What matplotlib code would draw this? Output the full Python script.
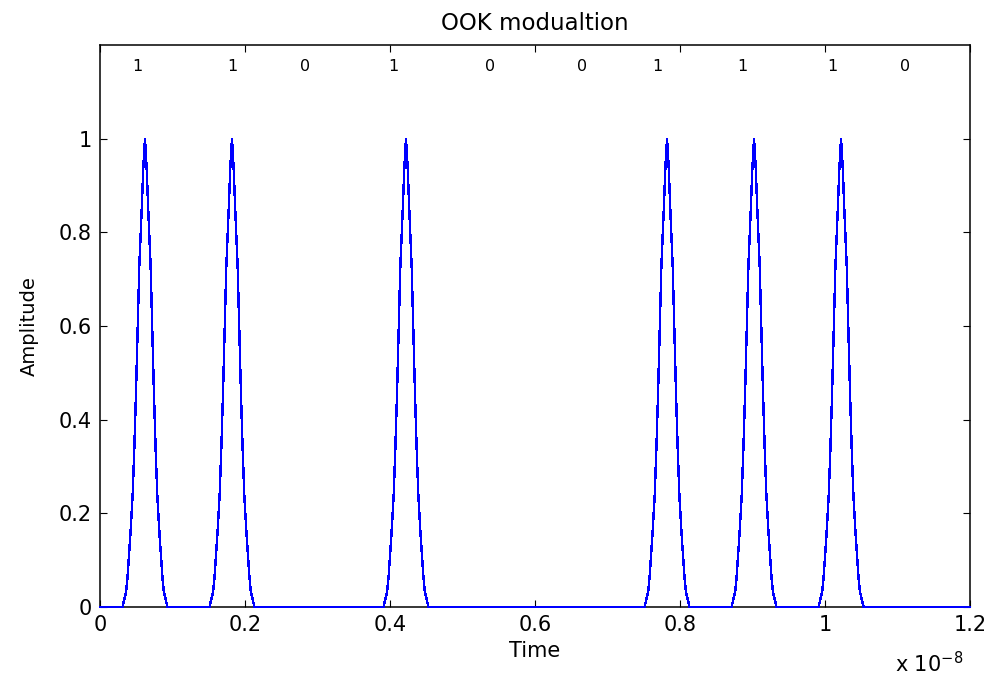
import numpy as np
import matplotlib
matplotlib.use("Agg")
import matplotlib.pyplot as plt
from matplotlib.ticker import MultipleLocator, FuncFormatter

# bit stream and timing (seconds)
bits = [1, 1, 0, 1, 0, 0, 1, 1, 1, 0]
bit_period = 0.12e-8
pulse_shift = 0.002e-8

# one pulse: time offset from its centre (units of 1e-8 s) and level
pulse_offsets = [-0.031, -0.026, -0.024, -0.020, -0.017, -0.0147, -0.0124, -0.010,
                 -0.0078, -0.0046, -0.0023, 0.0, 0.0023, 0.0046, 0.0078, 0.010,
                 0.0124, 0.0147, 0.017, 0.020, 0.024, 0.026, 0.031]
pulse_levels = [0.0, 0.033, 0.065, 0.157, 0.239, 0.338, 0.455, 0.594,
                0.728, 0.845, 0.938, 1.0, 0.938, 0.845, 0.728, 0.594,
                0.455, 0.338, 0.239, 0.157, 0.065, 0.033, 0.0]

# where the bit labels sit along the top (units of 1e-8 s)
label_x = [0.051, 0.182, 0.283, 0.404, 0.538, 0.665, 0.769, 0.886, 1.010, 1.110]
label_y = 1.155

# build the waveform from the bits
t = [0.0]
s = [0.0]
for i, b in enumerate(bits):
    if b:
        c = (i + 0.5) * bit_period + pulse_shift
        for off, lev in zip(pulse_offsets, pulse_levels):
            t.append(c + off * 1e-8)
            s.append(lev)
t.append(len(bits) * bit_period)
s.append(0.0)

plt.rcParams['font.family'] = ['DejaVu Sans']

fig = plt.figure(figsize=(9.95, 6.75), dpi=100)
ax = fig.add_axes([0.1005, 0.1007, 0.8745, 0.8326])

ax.plot(t, s, color=(0, 0, 1), lw=1.0, zorder=3, clip_on=False, antialiased=False)

for x, b in zip(label_x, bits):
    ax.text(x * 1e-8, label_y, str(b), ha='center', va='center', fontsize=11.5)

ax.set_xlim(0, 1.2e-8)
ax.set_ylim(0, 1.2)
ax.xaxis.set_major_locator(MultipleLocator(0.2e-8))
ax.xaxis.set_major_formatter(FuncFormatter(lambda v, p: '%g' % round(v / 1e-8, 3)))
ax.set_yticks([0, 0.2, 0.4, 0.6, 0.8, 1.0])
ax.yaxis.set_major_formatter(FuncFormatter(lambda v, p: '%g' % round(v, 3)))

ax.tick_params(direction='in', length=5, width=0.8, top=True, right=True,
               labelsize=15, pad=6, colors='black')
for sp in ax.spines.values():
    sp.set_linewidth(1.1)

ax.set_xlabel('Time', fontsize=15, labelpad=4)
ax.set_ylabel('Amplitude', fontsize=14, labelpad=14)
ax.set_title('OOK modualtion', fontsize=16.5, pad=11)

fig.text(963 / 995, 1 - 672 / 675, r'x 10$^{-8}$', ha='right', va='baseline', fontsize=15)

fig.savefig('out.png', dpi=100)
